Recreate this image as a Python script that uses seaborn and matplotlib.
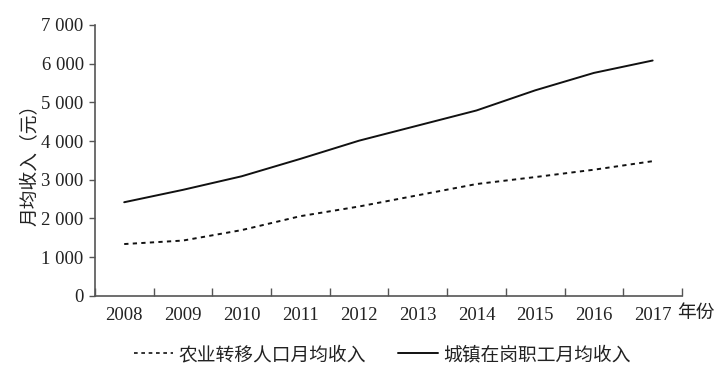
import pandas as pd
import matplotlib.pyplot as plt
import seaborn as sns
from matplotlib.ticker import FuncFormatter, FixedLocator

# data
years = ['2008', '2009', '2010', '2011', '2012', '2013', '2014', '2015', '2016', '2017']
migrant_income = [1340, 1430, 1700, 2060, 2310, 2600, 2890, 3070, 3260, 3480]
urban_income = [2420, 2740, 3090, 3540, 4010, 4400, 4790, 5310, 5760, 6080]
label_migrant = '农业转移人口月均收入'
label_urban = '城镇在岗职工月均收入'

df = pd.DataFrame({
    '年份': years * 2,
    '收入': migrant_income + urban_income,
    '类别': [label_migrant] * len(years) + [label_urban] * len(years),
})

sns.set_theme(style='ticks')
plt.rcParams['font.family'] = ['Liberation Serif', 'Noto Sans CJK SC']
plt.rcParams['axes.unicode_minus'] = False

fig = plt.figure(figsize=(7.24, 3.77), dpi=100)
ax = fig.add_axes([0.131, 0.215, 0.811, 0.719])

sns.lineplot(data=df, x='年份', y='收入', hue='类别', style='类别',
             palette=['#111111', '#111111'],
             dashes={label_migrant: (2.2, 2.2), label_urban: ''},
             linewidth=1.4, ax=ax, legend=False, sort=False)

ax.set_xlim(-0.5, len(years) - 0.5)
ax.set_ylim(0, 7000)
ax.set_yticks(range(0, 7001, 1000))
ax.yaxis.set_major_formatter(FuncFormatter(lambda v, p: f'{int(v):,}'.replace(',', ' ')))

# year labels at category centres, tick marks at boundaries
ax.set_xticks(range(len(years)))
ax.set_xticklabels(years)
ax.xaxis.set_minor_locator(FixedLocator([i - 0.5 for i in range(len(years) + 1)]))
ax.tick_params(axis='x', which='major', length=0, pad=8, labelsize=13.5, colors='#222222')
ax.tick_params(axis='x', which='minor', direction='in', length=6, width=1, color='#555555')
ax.tick_params(axis='y', direction='out', length=4, width=1, color='#555555',
               labelsize=13.5, labelcolor='#222222', pad=4)

for side in ['top', 'right']:
    ax.spines[side].set_visible(False)
for side in ['left', 'bottom']:
    ax.spines[side].set_color('#555555')
    ax.spines[side].set_linewidth(1.2)

ax.set_xlabel('')
ax.set_ylabel('月均收入（元）', fontsize=13.5, color='#222222')
ax.yaxis.set_label_coords(-0.094, 0.5)
ax.text(0.992, -0.064, '年份', transform=ax.transAxes, fontsize=13.5,
        color='#222222', ha='left', va='center')

handles = [
    plt.Line2D([], [], color='#111111', linewidth=1.2, dashes=(2.2, 2.2)),
    plt.Line2D([], [], color='#111111', linewidth=1.4),
]
fig.legend(handles, [label_migrant, label_urban], loc='center',
           bbox_to_anchor=(0.528, 0.058), ncol=2, frameon=False,
           fontsize=13.5, handlelength=2.1, handletextpad=0.3, columnspacing=1.7,
           labelcolor='#222222')

plt.savefig('out.png', dpi=100)
plt.close()
